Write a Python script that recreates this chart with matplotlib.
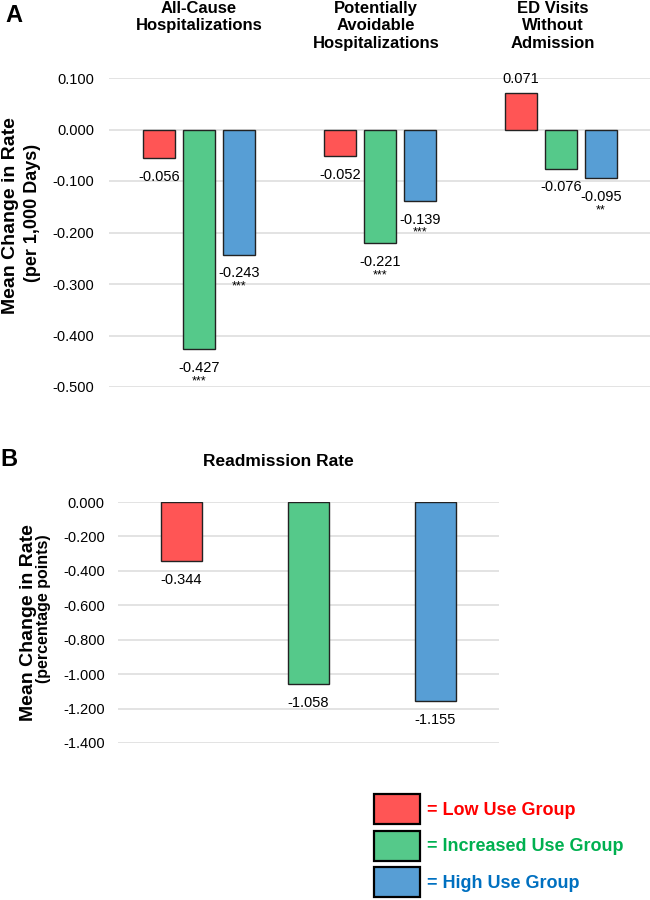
import matplotlib
matplotlib.use("Agg")
import matplotlib.pyplot as plt
import matplotlib.transforms as mtransforms
from matplotlib.patches import Patch
from matplotlib.ticker import FuncFormatter
import numpy as np

plt.rcParams['font.family'] = ['Liberation Sans', 'DejaVu Sans']

# ---------------- data ----------------
categories_A = ["All-Cause\nHospitalizations",
                "Potentially\nAvoidable\nHospitalizations",
                "ED Visits\nWithout\nAdmission"]
low_A = [-0.056, -0.052, 0.071]
inc_A = [-0.427, -0.221, -0.076]
high_A = [-0.243, -0.139, -0.095]
sig_low_A = ["", "", ""]
sig_inc_A = ["***", "***", ""]
sig_high_A = ["***", "***", "**"]
yticks_A = [0.1, 0.0, -0.1, -0.2, -0.3, -0.4, -0.5]

title_B = "Readmission Rate"
groups = ["= Low Use Group", "= Increased Use Group", "= High Use Group"]
readmit_B = [-0.344, -1.058, -1.155]
yticks_B = [0.0, -0.2, -0.4, -0.6, -0.8, -1.0, -1.2, -1.4]

bar_colors = ["#FF5555", "#55C98A", "#579ED5"]
text_colors = ["#FF0000", "#00B050", "#0070C0"]

W, H = 650, 900
fig = plt.figure(figsize=(W / 100, H / 100), dpi=100)

def fx(px):
    return px / W

def fy(py):
    return 1 - py / H

fmt = FuncFormatter(lambda v, p: f"{v:.3f}")

def style_axes(ax, yticks, pad):
    ax.set_yticks(yticks)
    ax.yaxis.set_major_formatter(fmt)
    ax.set_xticks([])
    for s in ax.spines.values():
        s.set_visible(False)
    ax.tick_params(axis='y', length=0, pad=pad, labelsize=10.5, colors='black')
    ax.grid(axis='y', color='#E0E0E0', linewidth=1.3)
    ax.set_axisbelow(True)

def label_bar(ax, x, v, stars):
    if v >= 0:
        ax.annotate(f"{v:.3f}", (x, v), xytext=(0, 5), textcoords='offset points',
                    ha='center', va='bottom', fontsize=10.5)
    else:
        ax.annotate(f"{v:.3f}", (x, v), xytext=(0, -8.5), textcoords='offset points',
                    ha='center', va='top', fontsize=10.5)
        if stars:
            ax.annotate(stars, (x, v), xytext=(0, -18.5), textcoords='offset points',
                        ha='center', va='top', fontsize=9)

# ---------------- panel A ----------------
axA = fig.add_axes([fx(108.5), fy(387), fx(543), 309 / H])
xA = np.arange(len(categories_A))
width_A = 0.177
offs = [-0.221, 0.0, 0.221]
series_A = [low_A, inc_A, high_A]
sigs_A = [sig_low_A, sig_inc_A, sig_high_A]
for j, (vals, sg) in enumerate(zip(series_A, sigs_A)):
    xs = xA + offs[j]
    axA.bar(xs, vals, width=width_A, color=bar_colors[j], edgecolor='#222222',
            linewidth=1.0, zorder=3)
    for x, v, s in zip(xs, vals, sg):
        label_bar(axA, x, v, s)
axA.set_xlim(-0.5, 2.5)
axA.set_ylim(-0.5, 0.1)
style_axes(axA, yticks_A, 10)

tA = mtransforms.blended_transform_factory(axA.transData, fig.transFigure)
title_shift = [0, -3, -6]
for i, c in enumerate(categories_A):
    axA.annotate(c, (xA[i], fy(1)), xycoords=tA, xytext=(title_shift[i], 0),
                 textcoords='offset points', ha='center', va='top',
                 fontsize=12, fontweight='bold', linespacing=1.2)

fig.text(fx(5), fy(4), "A", fontsize=17, fontweight='bold', ha='left', va='top')
fig.text(fx(11), fy(216), "Mean Change in Rate", rotation=90, ha='center', va='center',
         fontsize=14, fontweight='bold')
fig.text(fx(32.5), fy(213), "(per 1,000 Days)", rotation=90, ha='center', va='center',
         fontsize=13, fontweight='bold')

# ---------------- panel B ----------------
axB = fig.add_axes([fx(118), fy(743), fx(381), 241 / H])
xB = np.arange(len(readmit_B))
axB.bar(xB, readmit_B, width=0.315, color=bar_colors, edgecolor='#222222',
        linewidth=1.0, zorder=3)
for x, v in zip(xB, readmit_B):
    label_bar(axB, x, v, "")
axB.set_xlim(-0.5, 2.5)
axB.set_ylim(-1.4, 0.0)
style_axes(axB, yticks_B, 9.5)

fig.text(fx(278), fy(461), title_B, ha='center', va='center', fontsize=12.5,
         fontweight='bold')
fig.text(fx(0), fy(448), "B", fontsize=17, fontweight='bold', ha='left', va='top')
fig.text(fx(28.5), fy(622.5), "Mean Change in Rate", rotation=90, ha='center',
         va='center', fontsize=14, fontweight='bold')
fig.text(fx(44), fy(608.5), "(percentage points)", rotation=90, ha='center',
         va='center', fontsize=11.5, fontweight='bold')

# ---------------- legend ----------------
handles = [Patch(facecolor=c, edgecolor='black', linewidth=1.6) for c in bar_colors]
leg = fig.legend(handles, groups, loc='upper left', bbox_to_anchor=(fx(374), fy(794)),
                 frameon=False, borderpad=0, borderaxespad=0, handlelength=2.55,
                 handleheight=2.18, labelspacing=0.36, handletextpad=0.4,
                 prop={'size': 13, 'weight': 'bold'})
for t, c in zip(leg.get_texts(), text_colors):
    t.set_color(c)

fig.savefig("out.png", dpi=100)
